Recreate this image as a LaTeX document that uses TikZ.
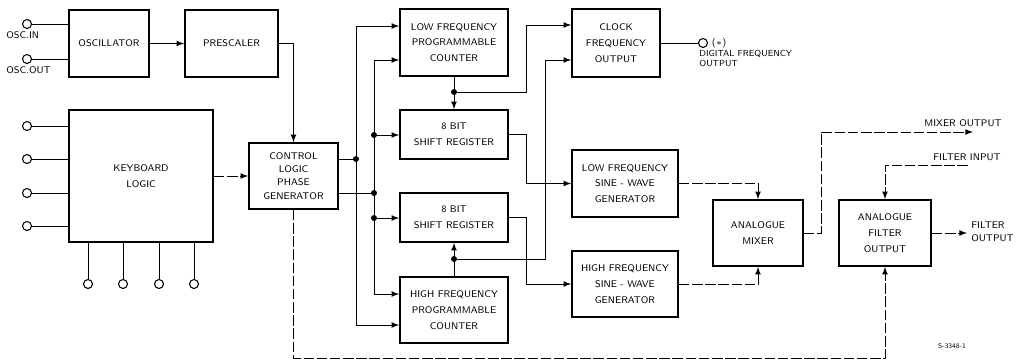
\documentclass[tikz,border=0pt]{standalone}
\usetikzlibrary{arrows}

\begin{document}
\begin{tikzpicture}[x=0.02cm,y=-0.02cm,>=latex,
  box/.style={draw,line width=1pt,align=center,inner sep=1pt,font=\sffamily\fontsize{5.5}{9}\selectfont},
  port/.style={draw,circle,line width=0.6pt,inner sep=0pt,minimum size=0.18cm},
  lbl/.style={inner sep=0pt,font=\sffamily\fontsize{5.5}{7.5}\selectfont},
  wire/.style={line width=0.5pt},
  weak/.style={wire,dash pattern=on 6pt off 1.5pt}]
\useasboundingbox (0,0) rectangle (1021,360);

% blocks
\node[box,minimum width=1.6cm,minimum height=1.34cm] (osc) at (109,43.5) {OSCILLATOR};
\node[box,minimum width=1.86cm,minimum height=1.34cm] (pre) at (231.5,43.5) {PRESCALER};
\node[box,minimum width=2.88cm,minimum height=2.64cm] (kbd) at (141,176) {KEYBOARD\\LOGIC};
\node[box,font=\sffamily\fontsize{5.5}{7.5}\selectfont,minimum width=1.78cm,minimum height=1.32cm] (ctrl) at (293.5,176) {CONTROL\\LOGIC\\PHASE\\GENERATOR};
\node[box,minimum width=2.16cm,minimum height=1.34cm] (lfc) at (454,42.5) {LOW FREQUENCY\\PROGRAMMABLE\\COUNTER};
\node[box,minimum width=2.16cm,minimum height=0.98cm] (sr1) at (454,134.5) {8 BIT\\SHIFT REGISTER};
\node[box,minimum width=2.16cm,minimum height=0.98cm] (sr2) at (454,217.5) {8 BIT\\SHIFT REGISTER};
\node[box,minimum width=2.16cm,minimum height=1.32cm] (hfc) at (454,310) {HIGH FREQUENCY\\PROGRAMMABLE\\COUNTER};
\node[box,minimum width=1.76cm,minimum height=1.36cm] (clk) at (616,43) {CLOCK\\FREQUENCY\\OUTPUT};
\node[box,minimum width=2.12cm,minimum height=1.34cm] (lfs) at (625,183.5) {LOW FREQUENCY\\SINE - WAVE\\GENERATOR};
\node[box,minimum width=2.12cm,minimum height=1.32cm] (hfs) at (625,284) {HIGH FREQUENCY\\SINE - WAVE\\GENERATOR};
\node[box,minimum width=1.8cm,minimum height=1.32cm] (mix) at (758,233) {ANALOGUE\\MIXER};
\node[box,minimum width=1.84cm,minimum height=1.32cm] (flt) at (885,233) {ANALOGUE\\FILTER\\OUTPUT};

% oscillator pins
\node[port] (oscin) at (27,24) {};
\node[port] (oscout) at (27,59) {};
\node[lbl,anchor=west] (oscinlbl) at (6,35) {OSC.IN};
\node[lbl,anchor=west] (oscoutlbl) at (6,70) {OSC.OUT};
\draw[wire] (oscin) -- (oscin -| osc.west);
\draw[wire] (oscout) -- (oscout -| osc.west);

% keyboard pins
\foreach \y [count=\i] in {126,159,193,226} {
  \node[port] (kin\i) at (27,\y) {};
  \draw[wire] (kin\i) -- (kin\i -| kbd.west);
}
\foreach \x [count=\i] in {88,123,159,194} {
  \node[port] (kout\i) at (\x,284) {};
  \draw[wire] (kout\i) -- (kout\i |- kbd.south);
}

\draw[wire,->] (osc) -- (pre);
\draw[wire,->] (pre) -| (ctrl);
\draw[weak,->] (kbd) -- (ctrl);

% bus to counters and registers
\coordinate (dA) at (356,159);
\coordinate (dB) at (374,193);
\coordinate (dC) at (374,135);
\coordinate (dD) at (374,218);
\coordinate (dE) at (454,92);
\coordinate (dF) at (454,259);
\coordinate (tA) at (356,26);
\coordinate (bA) at (356,325);
\coordinate (tB) at (374,60);
\coordinate (bB) at (374,294);
\draw[wire] (dA -| ctrl.east) -- (dA);
\draw[wire] (dB -| ctrl.east) -- (dB);
\draw[wire,->] (dA) -- (tA) -- (tA -| lfc.west);
\draw[wire,->] (dA) -- (bA) -- (bA -| hfc.west);
\draw[wire,->] (dB) -- (tB) -- (tB -| lfc.west);
\draw[wire,->] (dB) -- (bB) -- (bB -| hfc.west);
\draw[wire,->] (dC) -- (dC -| sr1.west);
\draw[wire,->] (dD) -- (dD -| sr2.west);
\draw[wire,->] (lfc) -- (sr1);
\draw[wire,->] (hfc) -- (sr2);
\foreach \d in {dA,dB,dC,dD,dE,dF}
  \fill (\d) circle (1.7pt);

% clock feeds
\coordinate (cA) at (526,25);
\coordinate (cB) at (545,60);
\draw[wire,->] (dE) -| (cA) -- (cA -| clk.west);
\draw[wire,->] (dF) -| (cB) -- (cB -| clk.west);

% register outputs
\coordinate (sA) at (526,183.5);
\coordinate (sB) at (526,284);
\draw[wire,->] (sr1) -| (sA) -- (lfs);
\draw[wire,->] (sr2) -| (sB) -- (hfs);

% digital output
\node[port] (dig) at (703,43) {};
\draw[wire] (clk) -- (dig);
\node[lbl,anchor=west] (digstar) at ([xshift=2pt]dig.east) {($\ast$)};
\node[lbl,anchor=north west,align=left,font=\sffamily\fontsize{5}{5.5}\selectfont] (diglbl) at (699,50) {DIGITAL FREQUENCY\\OUTPUT};

% mixer and filter
\draw[weak,->] (lfs) -| (mix);
\draw[weak,->] (hfs) -| (mix);
\coordinate (mA) at (821,132);
\coordinate (mB) at (973,132);
\draw[weak,->] (mix) -| (mA) -- (mB);
\node[lbl] (mixlbl) at (963,123) {MIXER OUTPUT};
\coordinate (fA) at (968,165);
\draw[weak,->] (fA) -| (flt);
\node[lbl] (finlbl) at (967,157) {FILTER INPUT};
\coordinate (fB) at (967,233);
\draw[weak,->] (flt) -- (fB);
\node[lbl,anchor=west,align=left] (foutlbl) at (971,232) {FILTER\\OUTPUT};
\coordinate (rA) at (885,358);
\draw[weak,->] (ctrl) |- (rA) -- (flt);

\node[lbl,font=\sffamily\fontsize{4}{5}\selectfont] (ref) at (952,346) {S-3348-1};
\end{tikzpicture}
\end{document}
